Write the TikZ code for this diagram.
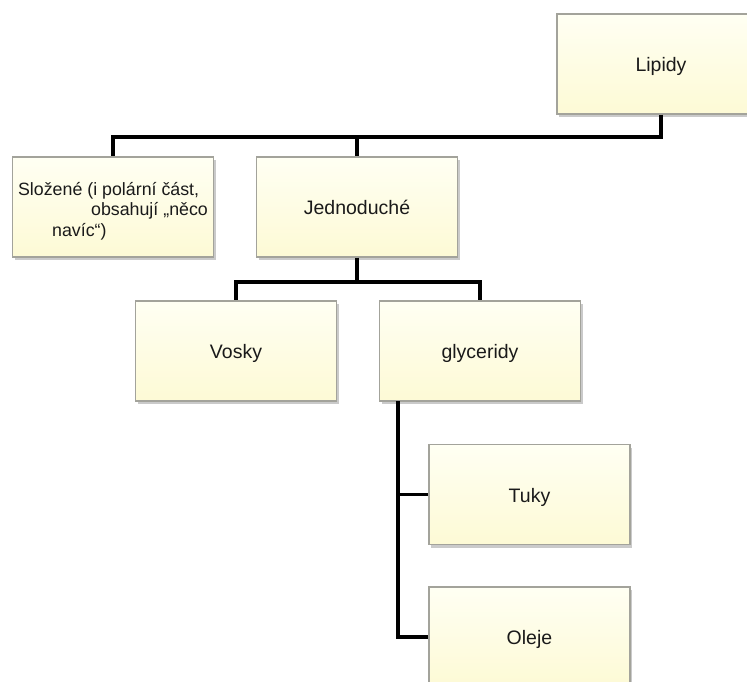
\documentclass[tikz,border=0pt]{standalone}
\usepackage{fontspec}
\setmainfont{Liberation Sans}
\usetikzlibrary{shadows}
\definecolor{boxline}{HTML}{A3A39B}
\definecolor{boxtop}{HTML}{FFFFF3}
\definecolor{boxbot}{HTML}{FDFAD5}
\definecolor{txt}{HTML}{1A1A1A}
\tikzset{
  box/.style={draw=boxline, line width=1.2pt, top color=boxtop, bottom color=boxbot,
    minimum width=201pt, minimum height=100pt, inner sep=0pt, text=txt,
    text height=15pt, text depth=0pt,
    font=\fontsize{19.5pt}{21pt}\selectfont,
    drop shadow={shadow xshift=2pt, shadow yshift=-3pt, opacity=0.35, fill=black!60}},
  conn/.style={line width=3.6pt, black, line join=miter}
}
\begin{document}
\begin{tikzpicture}[x=1pt, y=-1pt]
\useasboundingbox (0,0) rectangle (747,681);
\node[box, minimum width=208pt] (lip) at (661,64) {Lipidy};
\node[box, align=left, text height=58pt, font=\fontsize{17.8pt}{20.5pt}\selectfont] (slo) at (113,207) {Složené (i polární část,\hspace*{8pt}\\\hspace*{73pt}obsahují „něco\\\hspace*{34pt}navíc“)};
\node[box] (jed) at (357,207) {Jednoduché};
\node[box] (vos) at (236,351) {Vosky};
\node[box] (gly) at (480,351) {glyceridy};
\node[box] (tuk) at (529.5,494.5) {Tuky};
\node[box] (ole) at (529.5,637) {Oleje};
\coordinate (bus1) at (661,137);
\coordinate (bus2) at (357,282);
\coordinate (trunk) at (398,401);
\draw[conn] (lip.south) -- (lip.south |- bus1) -| (slo.north);
\draw[conn] (lip.south |- bus1) -| (jed.north);
\draw[conn] (jed.south) -- (jed.south |- bus2) -| (vos.north);
\draw[conn] (jed.south |- bus2) -| (gly.north);
\draw[conn] (trunk) |- (tuk.west);
\draw[conn] (trunk) |- (ole.west);
\end{tikzpicture}
\end{document}
